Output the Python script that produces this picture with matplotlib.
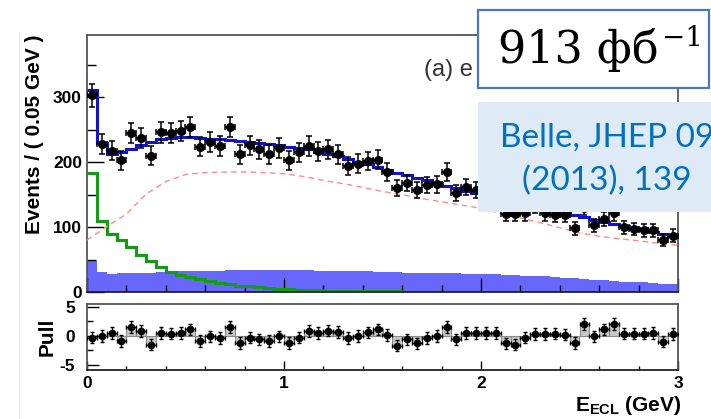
import numpy as np
import matplotlib
matplotlib.use("Agg")
import matplotlib.pyplot as plt
from matplotlib.patches import Rectangle
from matplotlib.lines import Line2D
from matplotlib.ticker import MultipleLocator

plt.rcParams['font.family'] = 'Liberation Sans'
plt.rcParams['font.weight'] = 'bold'
plt.rcParams['axes.unicode_minus'] = False
plt.rcParams['mathtext.fontset'] = 'custom'
plt.rcParams['mathtext.rm'] = 'Liberation Sans'
plt.rcParams['mathtext.bf'] = 'Liberation Sans:bold'

# binning: 60 bins of 0.05 GeV
edges = np.linspace(0, 3, 61)
centers = 0.5 * (edges[1:] + edges[:-1])

# data counts per bin
counts = [303, 228, 218, 203, 245, 238, 210, 246, 245, 248,
          254, 224, 231, 225, 254, 212, 226, 220, 212, 222,
          203, 215, 225, 217, 220, 212, 194, 198, 202, 204,
          185, 160, 168, 157, 165, 166, 185, 153, 162, 157,
          152, 150, 120, 120, 121, 133, 121, 119, 118, 98,
          130, 103, 113, 121, 100, 97, 95, 95, 80, 87]

# total fit
fit_total = [311, 229, 213, 216, 221, 226, 231, 235, 237, 239,
             239, 238, 236, 235, 234, 232, 231, 229, 228, 226,
             224, 222, 220, 217, 213, 209, 205, 201, 197, 192,
             188, 184, 180, 176, 172, 168, 164, 160, 156, 152,
             149, 145, 141, 138, 134, 131, 127, 124, 121, 118,
             115, 111, 108, 105, 102, 99, 96, 93, 90, 87]

# peaking component (green)
green = [183, 109, 90, 80, 70, 57, 47, 39, 31, 26,
         23, 19.5, 17, 14, 12, 10, 9, 7, 6, 5,
         4, 3.5, 3, 2.6, 2.2, 1.9, 1.6, 1.4, 1.2, 1.0,
         0.9, 0.8, 0.7, 0.7, 0.6, 0.6, 0.5, 0.5, 0.5, 0.4,
         0.4, 0.4, 0.4, 0.3, 0.3, 0.3, 0.3, 0.3, 0.3, 0.2,
         0.2, 0.2, 0.2, 0.2, 0.2, 0.2, 0.2, 0.2, 0.2, 0.2]

# filled background component
bkg_fill = [48, 31, 28, 29, 29, 30, 30, 31, 31, 32,
            32, 33, 33, 33, 34, 34, 34, 34, 34, 34,
            34, 34, 34, 33, 33, 33, 32, 32, 32, 31,
            31, 31, 30, 30, 30, 29, 29, 29, 28, 28,
            28, 27, 26, 26, 25, 25, 24, 23, 22, 21,
            20, 19, 18, 17, 16, 16, 15, 14, 13, 12]

# dashed component, sampled every 0.1 GeV
red_x = [0.0, 0.1, 0.2, 0.3, 0.4, 0.5, 0.6, 0.7, 0.8, 0.9,
         1.0, 1.1, 1.2, 1.3, 1.4, 1.5, 1.6, 1.7, 1.8, 1.9,
         2.0, 2.1, 2.2, 2.3, 2.4, 2.5, 2.6, 2.7, 2.8, 2.9, 3.0]
red_y = [80, 101, 120, 151, 170, 181, 184, 185, 185, 184,
         182, 178, 172, 167, 161, 155, 150, 144, 139, 134,
         129, 121, 114, 107, 99, 91, 86, 82, 79, 75, 72]

# pulls per bin
pulls = [-0.3, 0.0, 0.5, -0.9, 1.5, 0.8, -1.5, 0.5, 0.4, 0.5,
         1.1, -0.9, -0.1, -0.4, 1.5, -1.2, -0.3, -0.6, -0.9, -0.1,
         -1.2, -0.3, 0.8, 0.5, 0.9, 0.7, -0.4, 0.0, 0.6, 1.1,
         0.1, -1.7, -0.6, -1.3, -0.4, 0.0, 1.5, -0.6, 0.5, 0.5,
         0.5, 0.5, -1.3, -1.5, -0.3, 0.3, 0.3, 0.4, 0.2, -1.2,
         2.0, -0.1, 1.1, 2.0, 0.4, 0.4, 0.4, 0.5, -1.0, 0.3]

counts = np.array(counts, dtype=float)

W, H = 711, 419
fig = plt.figure(figsize=(W / 100, H / 100), dpi=100)

ax = fig.add_axes([87 / W, 1 - 292 / H, 591 / W, 257 / H])
axp = fig.add_axes([87 / W, 1 - 370 / H, 591 / W, 66 / H])

# --- upper panel
ax.stairs(bkg_fill, edges, fill=True, color='#6767fb', lw=0, zorder=1)
ax.stairs(green, edges, color='#129c12', lw=2.2, baseline=None, zorder=2)
ax.plot(red_x, red_y, color='#ff8a8a', lw=1.0, ls=(0, (4, 3)), zorder=3)
ax.stairs(fit_total, edges, color='#1212cc', lw=2.2, baseline=None, zorder=4)
ax.errorbar(centers, counts, yerr=np.sqrt(counts), xerr=0.025, fmt='o',
            color='black', ms=5.5, elinewidth=1.1, capsize=2, capthick=1.1,
            zorder=5)
ax.set_xlim(0, 3)
ax.set_ylim(0, 396)
ax.yaxis.set_major_locator(MultipleLocator(100))
ax.yaxis.set_minor_locator(MultipleLocator(50))
ax.xaxis.set_major_locator(MultipleLocator(1))
ax.xaxis.set_minor_locator(MultipleLocator(0.2))
ax.tick_params(axis='y', which='major', direction='in', length=12, width=1,
               labelsize=12.5, pad=3.6)
ax.tick_params(axis='y', which='minor', direction='in', length=6.5, width=1)
ax.tick_params(axis='x', which='major', direction='in', length=10, width=1,
               labelbottom=False)
ax.tick_params(axis='x', which='minor', direction='in', length=5, width=1)

# --- pull panel
axp.bar(centers, pulls, width=0.05, color='#c9c9c9', edgecolor='#8a8a8a',
        lw=0.8, zorder=1)
axp.errorbar(centers, pulls, yerr=1, xerr=0.025, fmt='o', color='black',
             ms=4.5, elinewidth=1.0, capsize=1.5, capthick=1.0, zorder=3)
axp.set_xlim(0, 3)
axp.set_ylim(-5.9, 5.5)
axp.set_yticks([-5, 0, 5])
axp.yaxis.set_minor_locator(MultipleLocator(2.5))
axp.xaxis.set_major_locator(MultipleLocator(1))
axp.xaxis.set_minor_locator(MultipleLocator(0.2))
axp.tick_params(axis='y', which='major', direction='in', length=8.6, width=1,
                labelsize=12.5, pad=8.5)
axp.tick_params(axis='y', which='minor', direction='in', length=4.3, width=1)
axp.tick_params(axis='x', which='major', direction='in', length=6.5, width=1,
                labelsize=12.5, pad=4.3)
axp.tick_params(axis='x', which='minor', direction='in', length=3, width=1)

for a in (ax, axp):
    for s in a.spines.values():
        s.set_color('#555555')
        s.set_linewidth(1.3)
    a.spines['bottom'].set_color('#222222')

# axis titles
fig.text(35 / W, 1 - 134 / H, 'Events / ( 0.05 GeV )', rotation=90,
         ha='center', va='center', fontsize=15)
fig.text(47 / W, 1 - 337 / H, 'Pull', rotation=90, ha='center', va='center',
         fontsize=15)
fig.text(681 / W, 1 - 411 / H, r'$\mathbf{E}_{\mathbf{ECL}}$ (GeV)',
         ha='right', va='baseline', fontsize=15)
fig.text(424 / W, 1 - 70 / H, '(a) e', fontsize=17, fontweight='normal',
         color='#333333', va='center', zorder=5)

# faint frame line on the left
fig.add_artist(Line2D([19 / W, 19 / W], [0, 1 - 32 / H], color='#e6e6e6',
                      lw=1, transform=fig.transFigure))

# luminosity box
fig.add_artist(Rectangle((478 / W, 1 - 88 / H), 231 / W, 78 / H,
                         transform=fig.transFigure, facecolor='white',
                         edgecolor='#4a76c4', lw=1.6, zorder=10))
lumi = fig.text(498 / W, 1 - 63 / H, '913 фб', fontsize=32,
                family='DejaVu Serif', fontweight='normal', ha='left',
                va='baseline', zorder=11)
# superscript placed right after the main text
renderer = fig.canvas.get_renderer()
bb = lumi.get_window_extent(renderer)
fig.text((bb.x1 + 3) / W, 1 - 46 / H, '\u22121', fontsize=20,
         family='DejaVu Serif', fontweight='normal', ha='left',
         va='baseline', zorder=11)

# reference box
fig.add_artist(Rectangle((478 / W, 1 - 212 / H), 240 / W, 110 / H,
                         transform=fig.transFigure, facecolor='#deebf7',
                         edgecolor='none', zorder=10))
fig.text(607 / W, 1 - 147 / H, 'Belle, JHEP 09', fontsize=24, family='Lato',
         fontweight='normal', color='#0070c0', ha='center', va='baseline',
         zorder=11)
fig.text(607 / W, 1 - 190 / H, '(2013), 139', fontsize=24, family='Lato',
         fontweight='normal', color='#0070c0', ha='center', va='baseline',
         zorder=11)

fig.savefig('out.png', dpi=100)
